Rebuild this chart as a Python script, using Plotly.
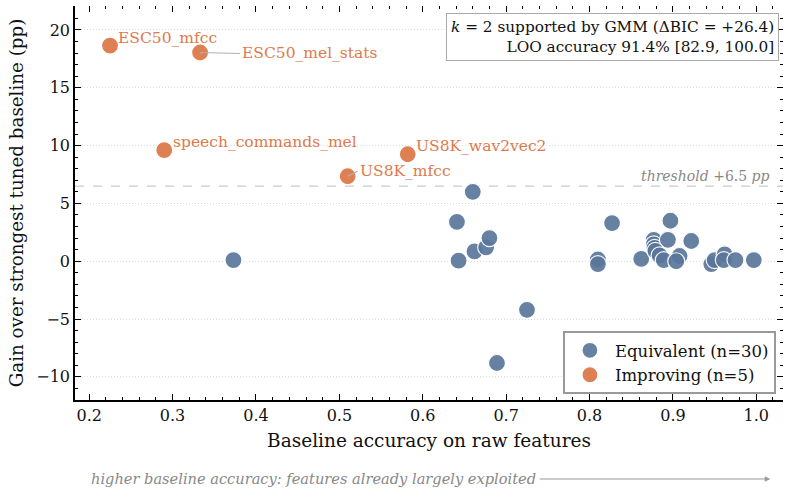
import plotly.graph_objects as go

# ---- data ----
equiv_x = [0.373, 0.641, 0.643, 0.660, 0.662, 0.676, 0.680, 0.725, 0.689,
           0.810, 0.810, 0.827, 0.862, 0.897, 0.877, 0.877, 0.878, 0.894,
           0.922, 0.879, 0.884, 0.889, 0.908, 0.904, 0.946, 0.950, 0.962,
           0.961, 0.975, 0.997]
equiv_y = [0.1, 3.4, 0.05, 6.0, 0.85, 1.2, 2.0, -4.2, -8.8,
           0.15, -0.25, 3.3, 0.2, 3.5, 1.85, 1.45, 1.15, 1.85,
           1.75, 0.9, 0.5, 0.1, 0.45, 0.0, -0.25, 0.1, 0.6,
           0.1, 0.1, 0.1]
impr_names = ["ESC50_mfcc", "ESC50_mel_stats", "speech_commands_mel", "US8K_mfcc", "US8K_wav2vec2"]
impr_x = [0.225, 0.333, 0.290, 0.510, 0.582]
impr_y = [18.65, 18.05, 9.6, 7.35, 9.25]
threshold = 6.5
x_ticks = [0.2, 0.3, 0.4, 0.5, 0.6, 0.7, 0.8, 0.9, 1.0]
y_ticks = [-10, -5, 0, 5, 10, 15, 20]

BLUE = "#5a779b"
ORANGE = "#dd7a4b"
FONT = "DejaVu Serif"

fig = go.Figure()
fig.add_trace(go.Scatter(
    x=equiv_x, y=equiv_y, mode="markers", name="Equivalent (n=30)",
    marker=dict(size=17, color=BLUE, opacity=0.92, line=dict(color="white", width=1.2))))
fig.add_trace(go.Scatter(
    x=impr_x, y=impr_y, mode="markers", name="Improving (n=5)",
    marker=dict(size=17, color=ORANGE, opacity=0.95, line=dict(color="white", width=1.2))))
fig.add_trace(go.Scatter(x=[], y=[], xaxis="x2", yaxis="y2", showlegend=False, hoverinfo="skip"))

xr = [0.183, 1.032]
yr = [-12.0, 22.07]

fig.add_hline(y=threshold, line=dict(color="#cccccc", width=1.3, dash="dash"), layer="below")

# labels
offsets = {
    "ESC50_mfcc": dict(ax=6, ay=-8, arrow=False),
    "ESC50_mel_stats": dict(ax=40, ay=1, arrow=True),
    "speech_commands_mel": dict(ax=7, ay=-8, arrow=False),
    "US8K_mfcc": dict(ax=10, ay=-5, arrow=True),
    "US8K_wav2vec2": dict(ax=6, ay=-8, arrow=False),
}
for n, x, y in zip(impr_names, impr_x, impr_y):
    o = offsets[n]
    fig.add_annotation(x=x, y=y, text=n, showarrow=True, arrowhead=0,
                       arrowcolor="#b0b0b0" if o["arrow"] else "rgba(0,0,0,0)", arrowwidth=1.2,
                       ax=o["ax"], ay=o["ay"], xanchor="left", yanchor="middle",
                       font=dict(family=FONT, size=15.5, color=ORANGE), standoff=0)

fig.add_annotation(xref="paper", yref="y", x=0.984, y=threshold, yanchor="bottom", xanchor="right",
                   text="<i>threshold</i> +6.5 <i>pp</i>", showarrow=False,
                   font=dict(family=FONT, size=14, color="#888888"))

fig.add_annotation(xref="paper", yref="paper", x=0.994, y=0.982, xanchor="right", yanchor="top",
                   align="right", showarrow=False,
                   text="<i>k</i> = 2 supported by GMM (ΔBIC = +26.4)<br>LOO accuracy 91.4% [82.9, 100.0]",
                   font=dict(family=FONT, size=15.3, color="#111111"),
                   bgcolor="white", bordercolor="#aaaaaa", borderwidth=1, borderpad=4)

fig.add_annotation(xref="paper", yref="paper", x=0.0198, y=-0.2005, xanchor="left", yanchor="middle",
                   text="<i>higher baseline accuracy: features already largely exploited</i>",
                   showarrow=False, font=dict(family=FONT, size=14.6, color="#888888"))
fig.add_annotation(xref="paper", yref="paper", x=0.982, y=-0.2005, text="", showarrow=True,
                   ax=-232, ay=0, arrowhead=2, arrowsize=1, arrowwidth=1.1, arrowcolor="#999999")

tickfont = dict(family=FONT, size=16, color="#111111")
fig.update_layout(
    width=791, height=493,
    margin=dict(l=75, r=8, t=6, b=93),
    plot_bgcolor="white", paper_bgcolor="white",
    font=dict(family=FONT, size=16, color="#111111"),
    xaxis=dict(range=xr, tickvals=x_ticks, ticktext=[f"{v:.1f}" for v in x_ticks],
               showgrid=False, zeroline=False, showline=True, linecolor="black", linewidth=1.5,
               ticks="inside", ticklen=6, tickcolor="black", tickfont=tickfont,
               minor=dict(dtick=0.02, tick0=0.2, ticks="inside", ticklen=3, tickcolor="black", showgrid=False),
               title=dict(text="Baseline accuracy on raw features", font=dict(family=FONT, size=18.5), standoff=10)),
    yaxis=dict(range=yr, tickvals=y_ticks, ticktext=[str(v).replace("-", "−") for v in y_ticks],
               showgrid=True, gridcolor="#dcdcdc", griddash="1px,2px", gridwidth=0.8,
               zeroline=False, showline=True, linecolor="black", linewidth=1.5,
               ticks="inside", ticklen=6, tickcolor="black", tickfont=tickfont,
               minor=dict(dtick=1, tick0=0, ticks="inside", ticklen=3, tickcolor="black", showgrid=False),
               title=dict(text="Gain over strongest tuned baseline (pp)", font=dict(family=FONT, size=18.3), standoff=8)),
    xaxis2=dict(overlaying="x", side="top", anchor="y", range=xr, tickvals=x_ticks,
                showticklabels=False, showgrid=False, zeroline=False, showline=False,
                ticks="inside", ticklen=6, tickcolor="black",
                minor=dict(dtick=0.02, tick0=0.2, ticks="inside", ticklen=3, tickcolor="black", showgrid=False)),
    yaxis2=dict(overlaying="y", side="right", anchor="x", range=yr, tickvals=y_ticks,
                showticklabels=False, showgrid=False, zeroline=False, showline=False,
                ticks="inside", ticklen=6, tickcolor="black",
                minor=dict(dtick=1, tick0=0, ticks="inside", ticklen=3, tickcolor="black", showgrid=False)),
    legend=dict(x=0.990, y=0.015, xanchor="right", yanchor="bottom",
                bgcolor="white", bordercolor="#999999", borderwidth=2,
                font=dict(family=FONT, size=16.5, color="#111111"), itemsizing="trace", itemwidth=40),
    showlegend=True,
)

fig.write_html("out.html")
